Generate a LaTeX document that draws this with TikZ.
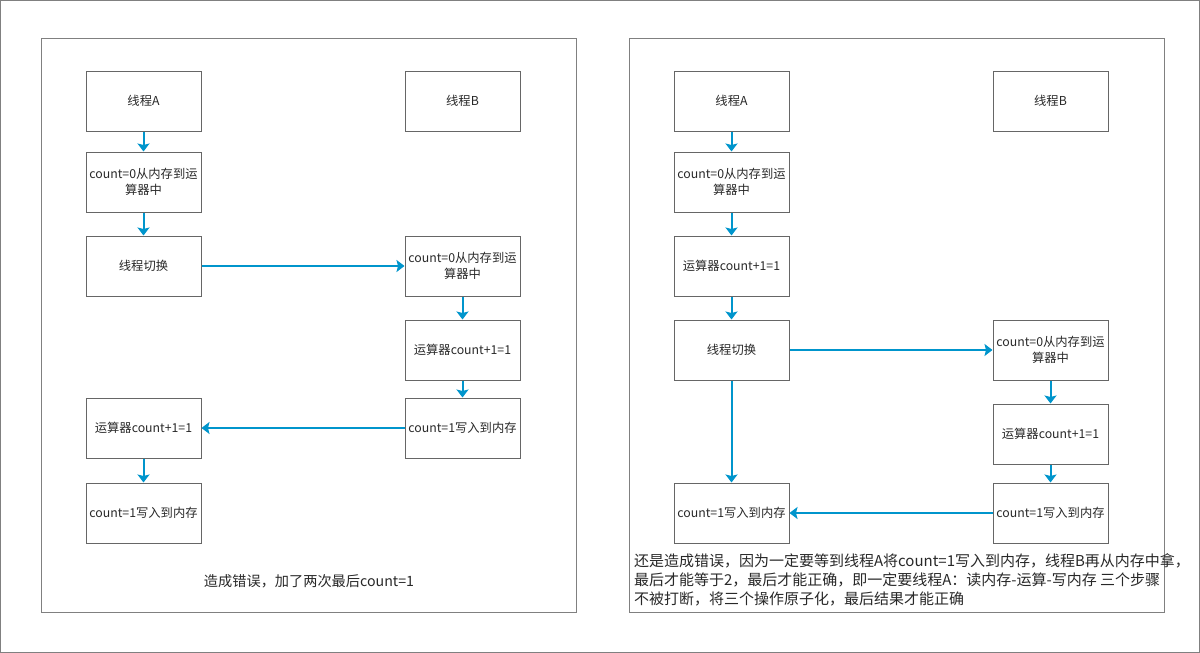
\documentclass[tikz,border=0pt]{standalone}
\usepackage{fontspec}
\setmainfont{Noto Sans CJK SC}
\usepackage{xcolor}
\usepackage{tikz}
\usetikzlibrary{
    arrows.meta
}
\definecolor{flow}{RGB}{0,149,204}
\definecolor{frame}{RGB}{128,128,128}
\definecolor{boxline}{RGB}{102,102,102}
\definecolor{ink}{RGB}{40,40,40}

\begin{document}
\begin{tikzpicture}[x=1pt,y=-1pt,->,>={Stealth[length=8pt,width=12pt,inset=1.5pt]},line width=2pt,flow]
    \tikzstyle{box}=[draw=boxline, line width=1pt, rectangle, minimum width=115pt, minimum height=60pt,
        inner sep=1pt, align=center, text=ink, font=\fontsize{12.3}{15.5}\selectfont]
    \tikzstyle{note}=[text=ink, inner sep=0pt, font=\fontsize{14.2}{19}\selectfont]

    \useasboundingbox (0,0) rectangle (1200,653);
    \draw[-, frame, line width=1pt] (0.5,0.5) rectangle (1199.5,652.5);
    \draw[-, frame, line width=1pt] (41.5,38.5) rectangle (576.5,612.5);
    \draw[-, frame, line width=1pt] (629.5,38.5) rectangle (1164.5,612.5);

    % left: two threads interleaved
    \node[box] (tA) at (143.5,101) {线程A};
    \node[box] (cA) at (143.5,182) {count=0从内存到运\\算器中};
    \node[box] (swA) at (143.5,266) {线程切换};
    \node[box] (tB) at (462.5,101) {线程B};
    \node[box] (cB) at (462.5,266) {count=0从内存到运\\算器中};
    \node[box] (oB) at (462.5,350) {运算器count+1=1};
    \node[box] (wB) at (462.5,428) {count=1写入到内存};
    \node[box] (oA) at (143.5,428) {运算器count+1=1};
    \node[box] (wA) at (143.5,513) {count=1写入到内存};
    \node[note] (resL) at (309,581) {造成错误，加了两次最后count=1};

    \path (tA) edge (cA);
    \path (cA) edge (swA);
    \path (swA) edge (cB);
    \path (cB) edge (oB);
    \path (oB) edge (wB);
    \path (wB) edge (oA);
    \path (oA) edge (wA);

    % right: switch after the add
    \node[box] (tA2) at (731.5,101) {线程A};
    \node[box] (cA2) at (731.5,182) {count=0从内存到运\\算器中};
    \node[box] (oA2) at (731.5,266) {运算器count+1=1};
    \node[box] (swA2) at (731.5,350) {线程切换};
    \node[box] (tB2) at (1050.5,101) {线程B};
    \node[box] (cB2) at (1050.5,350) {count=0从内存到运\\算器中};
    \node[box] (oB2) at (1050.5,434) {运算器count+1=1};
    \node[box] (wB2) at (1050.5,513) {count=1写入到内存};
    \node[box] (wA2) at (731.5,513) {count=1写入到内存};
    \node[note, anchor=west, align=left, font=\fontsize{15}{19}\selectfont] (resR) at (633,580)
        {还是造成错误，因为一定要等到线程A将count=1写入到内存，线程B再从内存中拿，\\
        最后才能等于2，最后才能正确，即一定要线程A：读内存-运算-写内存 三个步骤\\
        不被打断，将三个操作原子化，最后结果才能正确};

    \path (tA2) edge (cA2);
    \path (cA2) edge (oA2);
    \path (oA2) edge (swA2);
    \path (swA2) edge (cB2);
    \path (cB2) edge (oB2);
    \path (oB2) edge (wB2);
    \path (wB2) edge (wA2);
    \path (swA2) edge (wA2);
\end{tikzpicture}
\end{document}
